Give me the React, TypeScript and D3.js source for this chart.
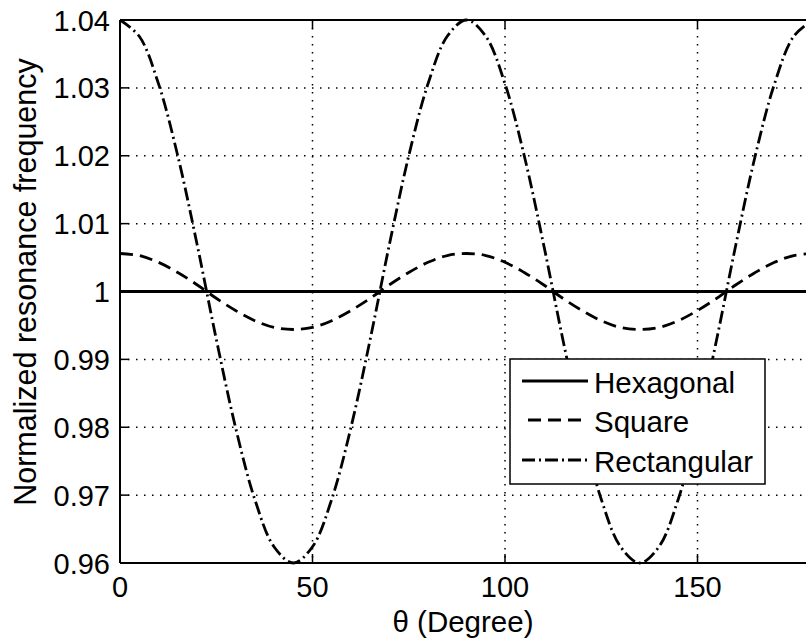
import React from "react";
import * as d3 from "d3";

const thetas = [0,5,10,15,20,25,30,35,40,45,50,55,60,65,70,75,80,85,90,95,100,105,110,115,120,125,130,135,140,145,150,155,160,165,170,175,180];
const hexagonal = thetas.map(() => 1.0);
const square = [1.0056,1.0053,1.0043,1.0028,1.001,0.999,0.9972,0.9957,0.9947,0.9944,0.9947,0.9957,0.9972,0.999,1.001,1.0028,1.0043,1.0053,1.0056,1.0053,1.0043,1.0028,1.001,0.999,0.9972,0.9957,0.9947,0.9944,0.9947,0.9957,0.9972,0.999,1.001,1.0028,1.0043,1.0053,1.0056];
const rectangular = [1.04,1.0376,1.0306,1.02,1.007,0.993,0.98,0.9694,0.9624,0.96,0.9624,0.9694,0.98,0.993,1.007,1.02,1.0306,1.0376,1.04,1.0376,1.0306,1.02,1.007,0.993,0.98,0.9694,0.9624,0.96,0.9624,0.9694,0.98,0.993,1.007,1.02,1.0306,1.0376,1.04];

const xTicks = [0, 50, 100, 150];
const yTicks = [0.96, 0.97, 0.98, 0.99, 1.0, 1.01, 1.02, 1.03, 1.04];
const yTickLabels = ["0.96", "0.97", "0.98", "0.99", "1", "1.01", "1.02", "1.03", "1.04"];

const seriesNames = ["Hexagonal", "Square", "Rectangular"];
const seriesData = [hexagonal, square, rectangular];
const seriesDash = ["none", "13,7", "13,4,2,4"];
const seriesWidth = [3, 2.8, 2.8];

const W = 806, H = 639;
const L = 120, T = 20, R = 813, B = 563;
const font = "'Liberation Sans', Arial, sans-serif";

export default function App() {
  const x = d3.scaleLinear().domain([0, 180]).range([L, R]);
  const y = d3.scaleLinear().domain([0.96, 1.04]).range([B, T]);
  const line = d3.line<[number, number]>().x(d => x(d[0])).y(d => y(d[1])).curve(d3.curveCatmullRom);

  const lx = 510, ly = 359, lw = 255, lh = 125;
  const rowY = [381, 420, 460];

  return (
    <svg width={W} height={H} style={{ position: "absolute", left: 0, top: 0, background: "#fff" }} fontFamily={font}>
      <rect x={0} y={0} width={W} height={H} fill="#fff" />
      <defs>
        <clipPath id="clip"><rect x={L} y={T - 2} width={R - L} height={B - T + 4} /></clipPath>
      </defs>
      {/* grid */}
      {xTicks.filter(t => t > 0).map(t => (
        <line key={"gx" + t} x1={x(t)} x2={x(t)} y1={T} y2={B} stroke="#000" strokeWidth={1.5} strokeDasharray="1.5,6.5" />
      ))}
      {yTicks.filter(t => t > 0.96 && t < 1.04).map(t => (
        <line key={"gy" + t} x1={L} x2={R} y1={y(t)} y2={y(t)} stroke="#000" strokeWidth={1.5} strokeDasharray="1.5,6.5" />
      ))}
      {/* series */}
      <g clipPath="url(#clip)">
        {seriesData.map((s, i) => (
          <path key={seriesNames[i]} d={line(thetas.map((t, j) => [t, s[j]]) as [number, number][]) || ""}
            fill="none" stroke="#000" strokeWidth={seriesWidth[i]} strokeDasharray={seriesDash[i]} />
        ))}
      </g>
      {/* axes box */}
      <line x1={L} x2={R} y1={T} y2={T} stroke="#000" strokeWidth={2} />
      <line x1={L} x2={R} y1={B} y2={B} stroke="#000" strokeWidth={2} />
      <line x1={L} x2={L} y1={T} y2={B} stroke="#000" strokeWidth={2} />
      {/* ticks */}
      {xTicks.map(t => (
        <g key={"xt" + t}>
          <line x1={x(t)} x2={x(t)} y1={B} y2={B - 9} stroke="#000" strokeWidth={1.5} />
          <line x1={x(t)} x2={x(t)} y1={T} y2={T + 9} stroke="#000" strokeWidth={1.5} />
          <text x={x(t)} y={B + 34} textAnchor="middle" fontSize={29} fill="#000">{t}</text>
        </g>
      ))}
      {yTicks.map((t, i) => (
        <g key={"yt" + t}>
          <line x1={L} x2={L + 9} y1={y(t)} y2={y(t)} stroke="#000" strokeWidth={1.5} />
          <text x={L - 10} y={y(t) + 10.5} textAnchor="end" fontSize={29} fill="#000">{yTickLabels[i]}</text>
        </g>
      ))}
      {/* axis labels */}
      <text x={463} y={632} textAnchor="middle" fontSize={29.5} fill="#000">θ (Degree)</text>
      <text transform={`translate(36, 282) rotate(-90)`} textAnchor="middle" fontSize={30.5} fill="#000">Normalized resonance frequency</text>
      {/* legend */}
      <rect x={lx} y={ly} width={lw} height={lh} fill="#fff" stroke="#000" strokeWidth={1.5} />
      {seriesNames.map((n, i) => (
        <g key={"lg" + n}>
          <line x1={i === 1 ? 528 : 522} x2={588} y1={rowY[i]} y2={rowY[i]} stroke="#000" strokeWidth={seriesWidth[i]} strokeDasharray={seriesDash[i]} />
          <text x={594} y={rowY[i] + 12} fontSize={29.5} fill="#000">{n}</text>
        </g>
      ))}
    </svg>
  );
}
